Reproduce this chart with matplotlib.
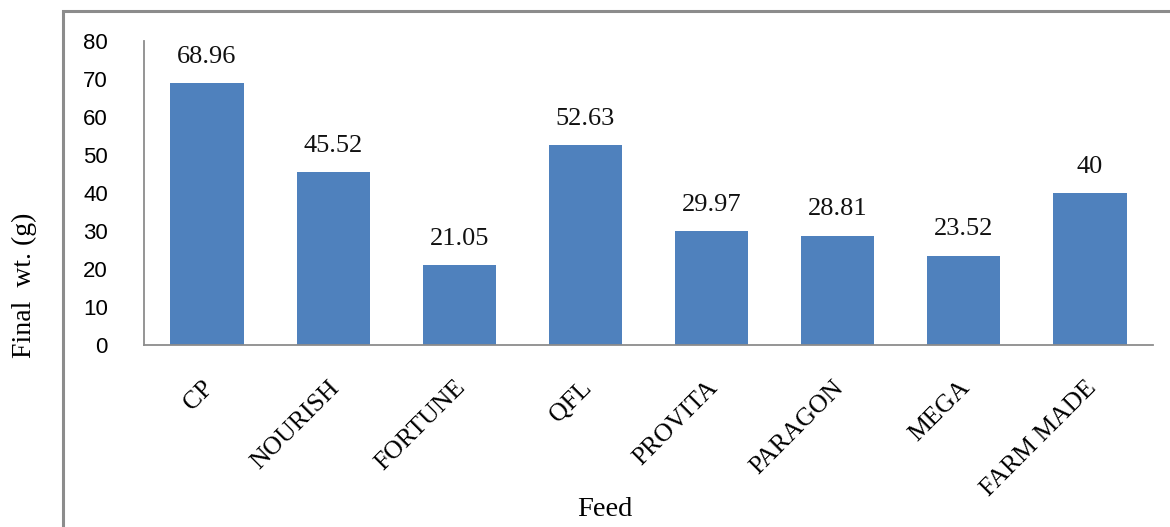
import matplotlib
matplotlib.use("Agg")
import matplotlib.pyplot as plt
import matplotlib.transforms as mtransforms
from matplotlib.patches import Rectangle

categories = ["CP", "NOURISH", "FORTUNE", "QFL", "PROVITA", "PARAGON", "MEGA", "FARM MADE"]
values = [68.96, 45.52, 21.05, 52.63, 29.97, 28.81, 23.52, 40]
labels = ["68.96", "45.52", "21.05", "52.63", "29.97", "28.81", "23.52", "40"]
yticks = [0, 10, 20, 30, 40, 50, 60, 70, 80]

W, H = 1170, 527
fig = plt.figure(figsize=(W / 100, H / 100), dpi=100)
ax = fig.add_axes([144 / W, 1 - 345 / H, (1153 - 144) / W, (345 - 41) / H])

# outer border (extends beyond right & bottom of image)
fig.patches.append(Rectangle((63 / W, -0.1), 1.2, 1 - 11 / H + 0.1, transform=fig.transFigure,
                             fill=False, edgecolor="#8c8c8c", linewidth=2.2, clip_on=False))

x = range(len(categories))
bars = ax.bar(x, values, width=0.58, color="#4f81bd", zorder=2)
for xi, v, lab in zip(x, values, labels):
    ax.text(xi, v + 4.0, lab, ha="center", va="bottom", family="Liberation Serif", fontsize=19, color="#111111")

ax.set_xlim(-0.5, len(categories) - 0.5)
ax.set_ylim(0, 80)
ax.set_yticks(yticks)
ax.set_yticklabels([str(t) for t in yticks], family="Liberation Sans", fontsize=16)
ax.set_xticks(list(x))
ax.set_xticklabels(categories, rotation=45, ha="right", rotation_mode="anchor",
                   family="Liberation Serif", fontsize=18.5)
ax.tick_params(axis="both", length=0)
ax.tick_params(axis="y", pad=26)
ax.tick_params(axis="x", pad=22)

offset = mtransforms.ScaledTranslation(-5 / 100, -1 / 100, fig.dpi_scale_trans)
for lbl in ax.get_xticklabels():
    lbl.set_transform(lbl.get_transform() + offset)

for s in ["top", "right"]:
    ax.spines[s].set_visible(False)
for s in ["left", "bottom"]:
    ax.spines[s].set_color("#8c8c8c")
    ax.spines[s].set_linewidth(1.3)

fig.text(24 / W, 1 - 285 / H, "Final  wt. (g)", rotation=90, ha="center", va="center",
         family="Liberation Serif", fontsize=20)
fig.text(605 / W, 1 - 509 / H, "Feed", ha="center", va="center", family="Liberation Serif", fontsize=20.5)

fig.savefig("out.png", dpi=100)
